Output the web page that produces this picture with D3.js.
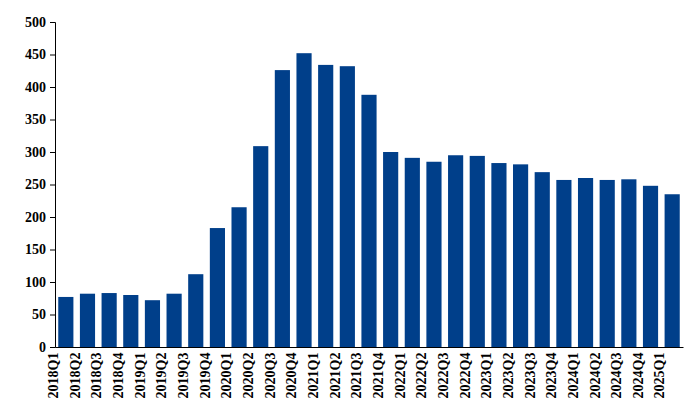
<!DOCTYPE html>
<html><head><meta charset="utf-8">
<script src="https://cdn.jsdelivr.net/npm/d3@7"></script>
<style>body{margin:0;background:#fff}</style>
</head><body>
<svg id="chart" width="700" height="420"></svg>
<script>
var quarters = ["2018Q1","2018Q2","2018Q3","2018Q4","2019Q1","2019Q2","2019Q3","2019Q4",
  "2020Q1","2020Q2","2020Q3","2020Q4","2021Q1","2021Q2","2021Q3","2021Q4",
  "2022Q1","2022Q2","2022Q3","2022Q4","2023Q1","2023Q2","2023Q3","2023Q4",
  "2024Q1","2024Q2","2024Q3","2024Q4","2025Q1"];
var values = [77,82,83,80,72,82,112,183,215,309,426,452,434,432,388,300,
  291,285,295,294,283,281,269,257,260,257,258,248,235];
var yTicks = [0,50,100,150,200,250,300,350,400,450,500];

var svg = d3.select("#chart");
var m = {left: 55, right: 17, top: 22, bottom: 73};
var w = 700 - m.left - m.right, h = 420 - m.top - m.bottom;
var g = svg.append("g").attr("transform", "translate(" + m.left + "," + m.top + ")");

var x = d3.scaleBand().domain(quarters).range([0, w]).paddingInner(0.3).paddingOuter(0.15);
var y = d3.scaleLinear().domain([0, 500]).range([h, 0]);

g.selectAll("rect").data(values).enter().append("rect")
  .attr("x", function (d, i) { return x(quarters[i]); })
  .attr("y", function (d) { return y(d); })
  .attr("width", x.bandwidth())
  .attr("height", function (d) { return h - y(d); })
  .attr("fill", "#003f8a");

var yAxis = g.append("g").call(d3.axisLeft(y).tickValues(yTicks).tickSize(5).tickPadding(4));
var xAxis = g.append("g").attr("transform", "translate(0," + h + ")")
  .call(d3.axisBottom(x).tickSize(0).tickPadding(5));

[yAxis, xAxis].forEach(function (a) {
  a.selectAll("text").attr("font-family", "Liberation Serif, serif")
    .attr("font-weight", "bold").attr("font-size", 14).attr("fill", "#000");
  a.selectAll("path,line").attr("stroke", "#000");
});
xAxis.selectAll("text").attr("transform", "rotate(-90)")
  .attr("text-anchor", "end").attr("dx", "-0.4em").attr("dy", "-0.55em")
  .attr("x", 0).attr("y", 0);
</script>
</body></html>
